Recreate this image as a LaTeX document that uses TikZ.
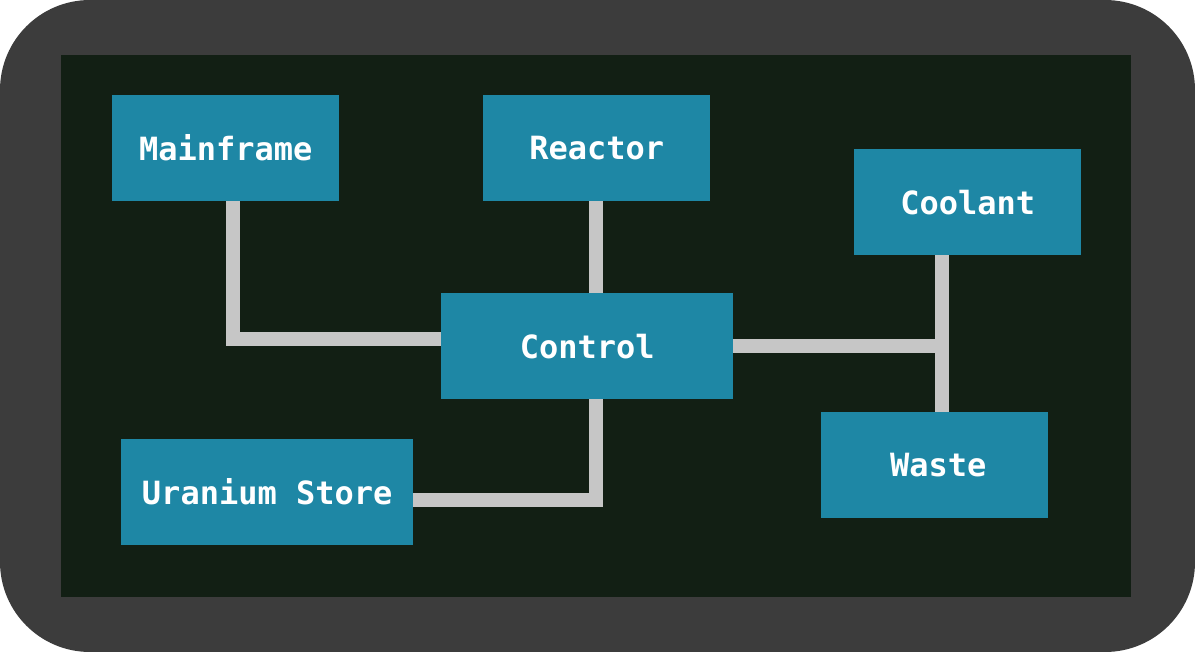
\documentclass[tikz,border=0pt]{standalone}
\usepackage{fontspec}
\newfontfamily\boxfont{DejaVu Sans Mono}
\definecolor{frame}{HTML}{3C3C3C}
\definecolor{panel}{HTML}{121F14}
\definecolor{boxfill}{HTML}{1E87A5}
\definecolor{wire}{HTML}{C6C6C6}
\tikzset{
  unit/.style={draw=none, fill=boxfill, text=white, font=\boxfont\bfseries\fontsize{32}{32}\selectfont,
    minimum height=106pt, inner sep=0pt, anchor=north west},
  wirestyle/.style={draw=wire, line width=14pt, line cap=butt, line join=miter}
}
\begin{document}
\begin{tikzpicture}[x=1pt,y=-1pt]
\useasboundingbox (0,0) rectangle (1195,652);
\fill[frame, rounded corners=90pt] (0,0) rectangle (1195,652);
\fill[panel] (61,55) rectangle (1131,597);
% nodes
\node[unit, minimum width=227pt] (mf) at (112,95) {Mainframe};
\node[unit, minimum width=227pt] (re) at (483,95) {Reactor};
\node[unit, minimum width=227pt] (co) at (854,149) {Coolant};
\node[unit, minimum width=292pt] (ct) at (441,293) {Control};
\node[unit, minimum width=292pt] (ur) at (121,439) {Uranium Store};
\node[unit, minimum width=227pt] (wa) at (821,412) {\hspace{7pt}Waste};
\coordinate (j) at (942,346);
% connectors
\draw[wirestyle] (mf.south -| 233,0) |- (ct.west |- 0,339);
\draw[wirestyle] (re.south -| 596,0) -- (ct.north -| 596,0);
\draw[wirestyle] (ct.east |- j) -- (j);
\draw[wirestyle] (co.south -| j) -- (wa.north -| j);
\draw[wirestyle] (ct.south -| 596,0) |- (ur.east |- 0,500);
\end{tikzpicture}
\end{document}
